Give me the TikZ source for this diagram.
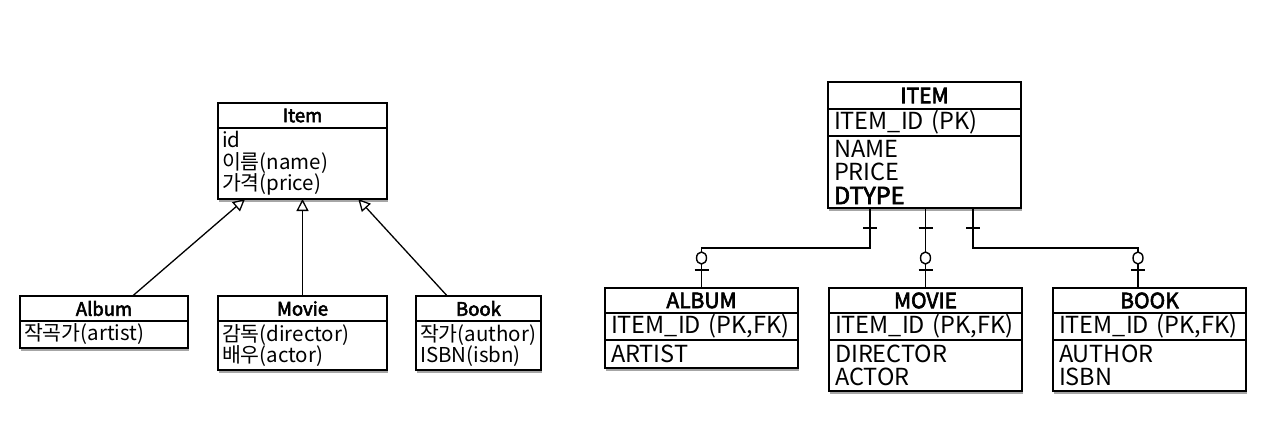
\documentclass[tikz,border=0pt]{standalone}
\usepackage{fontspec}
\setmainfont{Noto Sans CJK KR}
\newfontfamily\tfont[FakeBold=3]{Noto Sans CJK KR}
\usetikzlibrary{positioning,calc,shadows,arrows.meta}

\begin{document}
\begin{tikzpicture}[x=1pt,y=-1pt,
    cell/.style={draw, line width=1.6pt, fill=white, inner sep=0pt, outer sep=0pt},
    shade/.style={drop shadow={shadow xshift=1pt, shadow yshift=-3pt, opacity=.35, fill=black}},
    umltitle/.style={cell, minimum width=#1, minimum height=25pt, font=\tfont\fontsize{18.5}{20}\selectfont},
    umlbody/.style={cell, shade, text width=#1, inner xsep=4pt, align=left, font=\fontsize{20.5}{21.5}\selectfont},
    ertitle/.style={cell, minimum width=193pt, minimum height=#1, font=\tfont\fontsize{21}{23}\selectfont},
    erbody/.style={cell, text width=181pt, inner xsep=6pt, align=left, minimum height=#1, font=\fontsize{23.5}{23.5}\selectfont},
    gen/.style={line width=1.3pt, -{Triangle[open, length=12pt, width=12pt, line width=1.3pt]}},
    conn/.style={line width=1.4pt},
    onebar/.pic={\draw[conn] (-7,0) -- (7,0);}
  ]
  \useasboundingbox (0,0) rectangle (1285,428);

  % class diagram
  \node[umltitle=169pt] (Itemt) at (302.5,115.5) {Item};
  \node[umlbody=161pt, minimum height=71pt, below=0pt of Itemt] (Itemb) {id\\이름(name)\\가격(price)};

  \node[umltitle=168pt] (Albumt) at (104,308.5) {Album};
  \node[umlbody=160pt, minimum height=27pt, below=0pt of Albumt] (Albumb) {작곡가(artist)};

  \node[umltitle=169pt] (Moviet) at (302.5,308.5) {Movie};
  \node[umlbody=161pt, minimum height=49pt, below=0pt of Moviet] (Movieb) {감독(director)\\배우(actor)};

  \node[umltitle=125pt] (Bookt) at (478.5,308.5) {Book};
  \node[umlbody=117pt, minimum height=49pt, below=0pt of Bookt] (Bookb) {작가(author)\\ISBN(isbn)};

  \draw[gen] ($(Albumt.north west)!0.67!(Albumt.north east)$) -- ($(Itemb.south west)!0.16!(Itemb.south east)$);
  \draw[gen] (Moviet.north) -- (Moviet.north |- Itemb.south);
  \draw[gen] ($(Bookt.north west)!0.25!(Bookt.north east)$) -- ($(Itemb.south west)!0.83!(Itemb.south east)$);

  % tables
  \node[ertitle=27pt] (ITEM) at (924.5,95.5) {ITEM};
  \node[erbody=27pt, below=0pt of ITEM] (ITEMpk) {ITEM\_ID (PK)};
  \node[erbody=72pt, shade, below=0pt of ITEMpk] (ITEMcol) {NAME\\PRICE\\{\tfont DTYPE}};

  \node[ertitle=25pt] (ALBUM) at (701.5,300.5) {ALBUM};
  \node[erbody=27pt, below=0pt of ALBUM] (ALBUMpk) {ITEM\_ID (PK,FK)};
  \node[erbody=28pt, shade, below=0pt of ALBUMpk] (ALBUMcol) {ARTIST};

  \node[ertitle=25pt] (MOVIE) at (925.5,300.5) {MOVIE};
  \node[erbody=27pt, below=0pt of MOVIE] (MOVIEpk) {ITEM\_ID (PK,FK)};
  \node[erbody=51pt, shade, below=0pt of MOVIEpk] (MOVIEcol) {DIRECTOR\\ACTOR};

  \node[ertitle=25pt] (BOOK) at (1149.5,300.5) {BOOK};
  \node[erbody=27pt, below=0pt of BOOK] (BOOKpk) {ITEM\_ID (PK,FK)};
  \node[erbody=51pt, shade, below=0pt of BOOKpk] (BOOKcol) {AUTHOR\\ISBN};

  \coordinate (a1) at ($(ITEMcol.south west)+(42,0)$);
  \coordinate (b1) at ($(BOOK.north west)+(85,0)$);
  \coordinate (c1) at ($(ITEMcol.south west)+(145,0)$);
  \draw[conn] (a1) -- ++(0,40) -| (ALBUM.north);
  \draw[conn] (MOVIE.north) -- (MOVIE.north |- ITEMcol.south);
  \draw[conn] (c1) -- ++(0,40) -| (b1);

  \path (a1) ++(0,20) pic{onebar};
  \path (MOVIE.north |- ITEMcol.south) ++(0,20) pic{onebar};
  \path (c1) ++(0,20) pic{onebar};
  \foreach \p in {ALBUM.north, MOVIE.north, b1} {
    \path (\p) ++(0,-18) pic{onebar};
    \draw[conn, fill=white] ($(\p)+(0,-30)$) circle[x radius=5pt, y radius=6pt];
  }
\end{tikzpicture}
\end{document}
